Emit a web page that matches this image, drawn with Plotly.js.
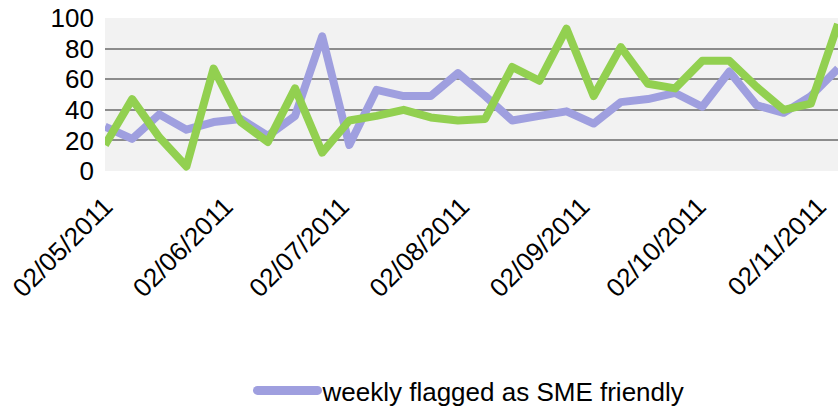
<!DOCTYPE html>
<html>
<head>
<meta charset="utf-8">
<script src="https://cdn.plot.ly/plotly-3.0.1.min.js"></script>
<style>
  html, body { margin: 0; padding: 0; background: #ffffff; }
  #chart { width: 838px; height: 414px; }
  .scatterlayer path.js-line { stroke-linejoin: round; }
  .legendlines path { stroke-width: 9px !important; stroke-linecap: round; }
</style>
</head>
<body>
<div id="chart"></div>
<script>
// Weekly observations (Mondays), May–November 2011
const weeks = [
  '2011-05-02','2011-05-09','2011-05-16','2011-05-23','2011-05-30',
  '2011-06-06','2011-06-13','2011-06-20','2011-06-27',
  '2011-07-04','2011-07-11','2011-07-18','2011-07-25',
  '2011-08-01','2011-08-08','2011-08-15','2011-08-22','2011-08-29',
  '2011-09-05','2011-09-12','2011-09-19','2011-09-26',
  '2011-10-03','2011-10-10','2011-10-17','2011-10-24','2011-10-31',
  '2011-11-07'
];

// Items flagged as SME friendly each week
const smeFriendly = [
  29, 21, 37, 27, 32, 34, 23, 36, 88,
  17, 53, 49, 49, 64, 49, 33, 36, 39,
  31, 45, 47, 51, 42, 65, 43, 38, 49, 67
];

// Second weekly series
const secondSeries = [
  17, 47, 22, 3, 67, 32, 19, 54, 12,
  33, 36, 40, 35, 33, 34, 68, 59, 93,
  49, 81, 57, 54, 72, 72, 55, 40, 44, 96
];

// Monthly tick positions and their dd/mm/yyyy labels
const monthTicks = [
  '2011-05-02','2011-06-02','2011-07-02','2011-08-02',
  '2011-09-02','2011-10-02','2011-11-02'
];
const monthLabels = [
  '02/05/2011','02/06/2011','02/07/2011','02/08/2011',
  '02/09/2011','02/10/2011','02/11/2011'
];

const seriesName = 'weekly flagged as SME friendly';

const traces = [
  {
    x: weeks,
    y: smeFriendly,
    type: 'scatter',
    mode: 'lines',
    name: seriesName,
    line: { color: '#9f9fdf', width: 8 }
  },
  {
    x: weeks,
    y: secondSeries,
    type: 'scatter',
    mode: 'lines',
    showlegend: false,
    line: { color: '#92d050', width: 8 }
  }
];

const layout = {
  width: 838,
  height: 414,
  margin: { l: 105, r: 0, t: 18, b: 240 },
  paper_bgcolor: '#ffffff',
  plot_bgcolor: '#f2f2f2',
  font: { family: '"Liberation Sans", Arial, sans-serif', size: 26, color: '#000000' },
  xaxis: {
    type: 'date',
    range: ['2011-05-02', '2011-11-07'],
    tickmode: 'array',
    tickvals: monthTicks,
    ticktext: monthLabels,
    tickangle: -45,
    ticks: '',
    ticklabelstandoff: 14,
    showgrid: false,
    showline: false,
    zeroline: false,
    fixedrange: true,
    tickfont: { size: 26, color: '#000000' }
  },
  yaxis: {
    range: [0, 100],
    tickmode: 'linear',
    tick0: 0,
    dtick: 20,
    ticks: '',
    showline: false,
    zeroline: false,
    gridcolor: '#8c8c8c',
    gridwidth: 2,
    ticklabelstandoff: 10,
    fixedrange: true,
    tickfont: { size: 26, color: '#000000' }
  },
  legend: {
    orientation: 'h',
    x: 0.5,
    xanchor: 'center',
    y: -1.436,
    yanchor: 'middle',
    font: { size: 26, color: '#000000' },
    bgcolor: 'rgba(0,0,0,0)',
    itemwidth: 60
  },
  showlegend: true
};

Plotly.newPlot('chart', traces, layout, { displayModeBar: false, staticPlot: true });
</script>
</body>
</html>
